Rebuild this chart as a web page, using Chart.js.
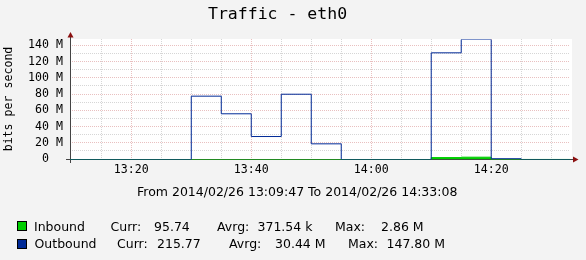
<!DOCTYPE html>
<html><head><meta charset="utf-8">
<script src="https://cdn.jsdelivr.net/npm/chart.js@4.4.1/dist/chart.umd.min.js"></script>
<style>
html,body{margin:0;padding:0;background:#F3F3F3;}
#wrap{position:relative;width:586px;height:260px;overflow:hidden;background:#F3F3F3;}
canvas{position:absolute;left:0;top:0;}
.t{position:absolute;white-space:pre;line-height:1;color:#000;}
.sans{font-family:"DejaVu Sans";font-size:12.5px;}
.box{position:absolute;width:10px;height:10px;box-sizing:border-box;border:1px solid #000;}
</style></head><body>
<div id="wrap">
<canvas id="c" width="586" height="260"></canvas>
</div>
<script>
// ---- data ----
const chartTitle = 'Traffic - eth0';
const yAxisTitle = 'bits per second';
const timeRange = ['13:09:47', '14:33:08'];
const footerText = 'From 2014/02/26 13:09:47 To 2014/02/26 14:33:08';
const outboundTimes = ['13:09:47','13:30:00','13:35:00','13:40:00','13:45:00','13:50:00','13:55:00','14:10:00','14:15:00','14:20:00','14:25:00','14:33:08'];
const outboundValues = [0, 78.0, 56.3, 28.3, 80.4, 19.3, 0, 131.4, 147.8, 1.0, 0, 0];
const inboundTimes = ['13:09:47','14:10:00','14:15:00','14:20:00','14:33:08'];
const inboundValues = [0, 2.4, 2.86, 0.05, 0];
const yUpper = 147.8;
const yGridValues = [0,10,20,30,40,50,60,70,80,90,100,110,120,130,140];
const yLabelValues = [0,20,40,60,80,100,120,140];
const xGridTimes = ['13:15','13:20','13:25','13:30','13:35','13:40','13:45','13:50','13:55','14:00','14:05','14:10','14:15','14:20','14:25','14:30'];
const xLabelTimes = ['13:20','13:40','14:00','14:20'];
const legendNames = ['Inbound','Outbound'];
const legendCurr = ['95.74','215.77'];
const legendAvg = ['371.54 k','30.44 M'];
const legendMax = ['2.86 M','147.80 M'];

// ---- styles / layout ----
const seriesColors = ['#00CF00', '#002A97'];
const MONO = 'DejaVu Sans Mono';
const majorGrid = 'rgba(215,140,140,0.55)';
const minorGrid = 'rgba(165,165,165,0.45)';
const axisColor = '#444444';
const arrowColor = '#8B1010';
const legendLayout = [
  {top:220.5, box:221, cols:[34, 110.5, 154, 217, 257.5, 335, 381]},
  {top:238, box:239, cols:[34.5, 117, 157, 229, 275, 348, 386.5]}
];

const toSec = s => { const p = s.split(':').map(Number); return p[0]*3600 + p[1]*60 + (p[2]||0); };
const fmt = v => { const h = Math.floor(v/3600), m = Math.round((v%3600)/60); return h + ':' + String(m).padStart(2,'0'); };
const xGridSec = xGridTimes.map(toSec);
const xLabelSec = new Set(xLabelTimes.map(toSec));
const ySet = new Set(yLabelValues);

const frame = {
  id: 'frame',
  beforeDraw(chart) {
    const {ctx, chartArea: a} = chart;
    ctx.save();
    ctx.fillStyle = '#FFFFFF';
    ctx.fillRect(a.left, a.top, a.right - a.left + 2, a.bottom - a.top);
    ctx.restore();
  },
  beforeDatasetsDraw(chart) {
    const {ctx, chartArea: a} = chart;
    ctx.save();
    ctx.strokeStyle = axisColor; ctx.lineWidth = 1;
    ctx.beginPath();
    ctx.moveTo(a.left + 0.5, a.bottom + 4); ctx.lineTo(a.left + 0.5, a.top - 3);
    ctx.moveTo(a.left - 4, a.bottom + 0.5); ctx.lineTo(a.right + 4, a.bottom + 0.5);
    ctx.stroke();
    ctx.fillStyle = arrowColor;
    ctx.beginPath();
    ctx.moveTo(a.left + 0.5, a.top - 7); ctx.lineTo(a.left + 3.5, a.top - 1.5); ctx.lineTo(a.left - 2.5, a.top - 1.5); ctx.closePath();
    ctx.fill();
    ctx.beginPath();
    ctx.moveTo(a.right + 8.5, a.bottom + 0.5); ctx.lineTo(a.right + 3, a.bottom - 2.5); ctx.lineTo(a.right + 3, a.bottom + 3.5); ctx.closePath();
    ctx.fill();
    ctx.restore();
    ctx.save();
    ctx.translate(0, 0.5);
  },
  afterDatasetsDraw(chart) { chart.ctx.restore(); }
};

new Chart(document.getElementById('c'), {
  type: 'line',
  data: {
    datasets: [
      { label: legendNames[1], data: outboundTimes.map((t,i)=>({x: toSec(t), y: outboundValues[i]})),
        borderColor: seriesColors[1], borderWidth: 1, pointRadius: 0, stepped: true, fill: false, order: 0 },
      { label: legendNames[0], data: inboundTimes.map((t,i)=>({x: toSec(t), y: inboundValues[i]})),
        borderColor: seriesColors[0], backgroundColor: seriesColors[0], borderWidth: 1, pointRadius: 0, stepped: true, fill: 'origin', order: 1 }
    ]
  },
  options: {
    responsive: false, animation: false, devicePixelRatio: 1,
    layout: { padding: { top: 39, right: 16, bottom: 0, left: 0 } },
    plugins: { legend: { display: false }, tooltip: { enabled: false }, title: { display: false } },
    scales: {
      x: {
        type: 'linear', min: toSec(timeRange[0]), max: toSec(timeRange[1]),
        afterBuildTicks: s => { s.ticks = xGridSec.map(v => ({value: v})); },
        afterFit: s => { s.height = 101; },
        grid: { drawTicks: false, tickLength: 0, color: c => (c.tick && xLabelSec.has(c.tick.value)) ? majorGrid : minorGrid },
        border: { display: false, dash: [1,1] },
        ticks: { autoSkip: false, maxRotation: 0, padding: 4, color: '#000', font: { family: MONO, size: 11.6 },
          callback: v => xLabelSec.has(v) ? fmt(v) : '' }
      },
      y: {
        min: 0, max: yUpper,
        afterBuildTicks: s => { s.ticks = yGridValues.map(v => ({value: v})); },
        afterFit: s => { s.width = 70; },
        grid: { drawTicks: false, tickLength: 0, color: c => (c.tick && ySet.has(c.tick.value)) ? majorGrid : minorGrid },
        border: { display: false, dash: [1,1] },
        title: { display: true, text: yAxisTitle, color: '#000', font: { family: MONO, size: 11.6 }, padding: { top: 2, bottom: 0 } },
        ticks: { autoSkip: false, padding: 7, color: '#000', font: { family: MONO, size: 11.6 },
          callback: v => ySet.has(v) ? (v === 0 ? '0  ' : v + ' M') : '' }
      }
    }
  },
  plugins: [frame]
});

// ---- text (title, footer, legend) ----
const wrap = document.getElementById('wrap');
function addText(txt, left, top, cls, style) {
  const d = document.createElement('div');
  d.className = 't ' + (cls || '');
  d.textContent = txt;
  d.style.left = left + 'px'; d.style.top = top + 'px';
  if (style) Object.assign(d.style, style);
  wrap.appendChild(d);
}
addText(chartTitle, 208, 6, '', { fontFamily: MONO, fontSize: '16.5px' });
addText(footerText, 137, 185.5, 'sans');
legendNames.forEach((name, i) => {
  const L = legendLayout[i];
  const b = document.createElement('div');
  b.className = 'box'; b.style.left = '17px'; b.style.top = L.box + 'px'; b.style.background = seriesColors[i];
  wrap.appendChild(b);
  const parts = [name, 'Curr:', legendCurr[i], 'Avrg:', legendAvg[i], 'Max:', legendMax[i]];
  parts.forEach((p, j) => addText(p, L.cols[j], L.top, 'sans'));
});
</script>
</body></html>
